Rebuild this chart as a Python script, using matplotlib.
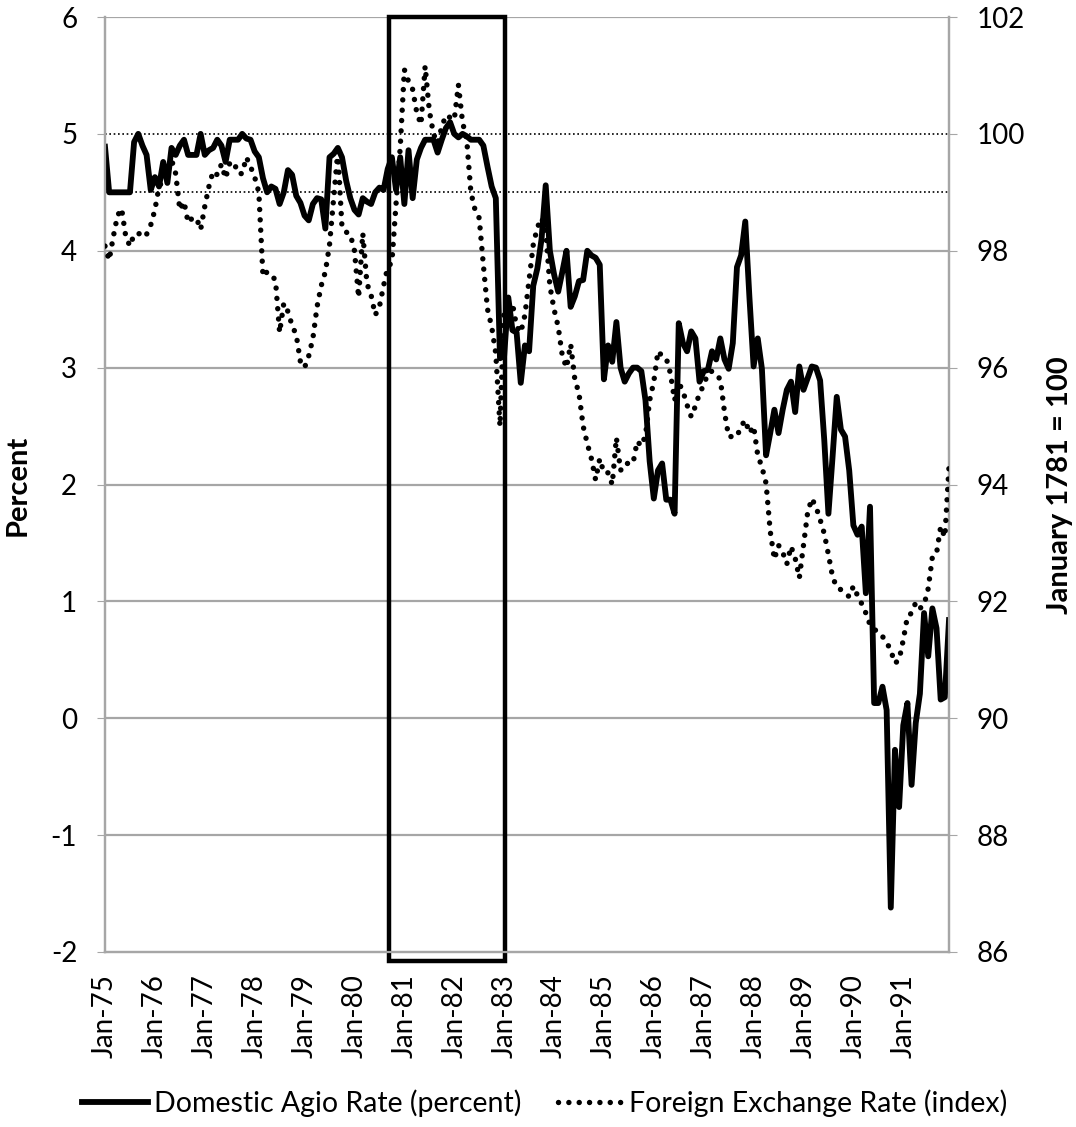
import matplotlib
matplotlib.use("Agg")
import matplotlib.pyplot as plt
from matplotlib.lines import Line2D
from matplotlib.patches import Rectangle
import numpy as np

plt.rcParams['font.family'] = ['Lato', 'DejaVu Sans']

# monthly data, Jan-75 .. Dec-91
agio = (
    [4.89, 4.5, 4.5, 4.5, 4.5, 4.5, 4.5, 4.93, 5.0, 4.9, 4.82, 4.52] +      # 75
    [4.63, 4.55, 4.76, 4.58, 4.88, 4.82, 4.9, 4.95, 4.82, 4.82, 4.82, 5.0] +  # 76
    [4.82, 4.86, 4.88, 4.95, 4.9, 4.76, 4.95, 4.95, 4.95, 5.0, 4.96, 4.95] +  # 77
    [4.85, 4.8, 4.62, 4.5, 4.55, 4.53, 4.4, 4.5, 4.69, 4.65, 4.47, 4.41] +    # 78
    [4.3, 4.26, 4.4, 4.45, 4.44, 4.19, 4.8, 4.83, 4.88, 4.8, 4.6, 4.45] +     # 79
    [4.35, 4.31, 4.45, 4.42, 4.4, 4.5, 4.54, 4.52, 4.7, 4.8, 4.52, 4.8] +     # 80
    [4.4, 4.86, 4.45, 4.78, 4.88, 4.95, 4.95, 4.95, 4.84, 4.95, 5.05, 5.1] +  # 81
    [5.0, 4.97, 5.0, 4.98, 4.95, 4.95, 4.95, 4.9, 4.72, 4.55, 4.45, 3.08] +   # 82
    [3.1, 3.6, 3.32, 3.3, 2.87, 3.19, 3.14, 3.7, 3.85, 4.1, 4.56, 4.0] +      # 83
    [3.8, 3.65, 3.82, 4.0, 3.52, 3.61, 3.74, 3.75, 4.0, 3.96, 3.94, 3.88] +   # 84
    [2.9, 3.19, 3.05, 3.39, 3.0, 2.88, 2.95, 3.0, 3.0, 2.97, 2.72, 2.2] +     # 85
    [1.88, 2.12, 2.18, 1.87, 1.87, 1.75, 3.38, 3.21, 3.14, 3.31, 3.25, 2.88] +  # 86
    [2.97, 2.98, 3.14, 3.07, 3.25, 3.07, 2.99, 3.21, 3.86, 3.96, 4.25, 3.6] +   # 87
    [3.01, 3.25, 2.99, 2.25, 2.44, 2.64, 2.44, 2.64, 2.81, 2.88, 2.62, 3.01] +  # 88
    [2.81, 2.91, 3.01, 3.0, 2.89, 2.38, 1.75, 2.24, 2.75, 2.47, 2.41, 2.12] +   # 89
    [1.65, 1.57, 1.64, 1.07, 1.81, 0.13, 0.13, 0.27, 0.07, -1.62, -0.27, -0.76] +  # 90
    [-0.06, 0.13, -0.57, -0.04, 0.21, 0.9, 0.53, 0.94, 0.77, 0.16, 0.18, 0.84]     # 91
)

fx_index = (
    [98.08, 97.84, 98.24, 98.6, 98.72, 98.24, 98.08, 98.28, 98.28, 98.34, 98.28, 98.44] +
    [98.7, 99.1, 99.2, 99.34, 99.56, 99.32, 98.7, 98.84, 98.48, 98.56, 98.56, 98.36] +
    [98.76, 99.1, 99.36, 99.3, 99.48, 99.24, 99.5, 99.52, 99.32, 99.32, 99.6, 99.44] +
    [99.26, 99.0, 97.56, 97.64, 97.58, 97.5, 96.6, 97.1, 96.96, 96.72, 96.56, 96.1] +
    [96.0, 96.2, 96.5, 97.04, 97.4, 97.64, 98.1, 98.9, 99.7, 98.4, 98.32, 98.28] +
    [98.0, 97.2, 98.3, 97.44, 97.24, 96.9, 97.04, 97.4, 97.72, 97.8, 98.8, 99.76] +
    [101.1, 100.9, 100.76, 100.36, 100.16, 101.16, 100.4, 100.0, 99.84, 100.12, 100.32, 100.28] +
    [100.24, 100.84, 100.2, 99.9, 99.0, 98.7, 98.56, 97.76, 97.0, 96.7, 96.24, 95.0] +
    [97.0, 96.9, 97.1, 96.7, 96.6, 96.9, 97.5, 98.1, 98.4, 98.56, 98.36, 97.4] +
    [97.0, 96.7, 96.2, 96.0, 96.4, 95.8, 95.56, 95.0, 94.7, 94.44, 94.08, 94.44] +
    [94.2, 94.2, 94.0, 94.8, 94.24, 94.36, 94.36, 94.36, 94.74, 94.66, 94.84, 95.44] +
    [95.76, 96.28, 96.2, 96.16, 95.9, 95.44, 95.74, 95.6, 95.36, 95.16, 95.34, 95.56] +
    [95.7, 95.9, 95.94, 95.88, 95.8, 95.24, 94.82, 94.82, 94.82, 95.0, 95.1, 94.88] +
    [95.0, 94.5, 94.3, 94.02, 93.2, 92.72, 92.96, 92.84, 92.64, 92.94, 92.74, 92.4] +
    [92.96, 93.52, 93.76, 93.62, 93.4, 93.16, 92.8, 92.42, 92.24, 92.2, 92.14, 92.08] +
    [92.26, 92.1, 91.96, 91.8, 91.6, 91.52, 91.48, 91.4, 91.3, 91.16, 90.94, 91.0] +
    [91.34, 91.74, 91.8, 91.98, 91.88, 91.94, 92.22, 92.76, 92.82, 93.28, 93.1, 94.3]
)

years = ['75', '76', '77', '78', '79', '80', '81', '82', '83', '84',
         '85', '86', '87', '88', '89', '90', '91']
tick_labels = ['Jan-' + y for y in years]
ref_lines = [5.0, 4.5]          # dotted reference levels (percent)
box_months = (68.3, 96.2)       # highlighted period, Sep-80 .. Jan-83

x = np.arange(len(agio))
dots = (0, (0.01, 1.9))

fig = plt.figure(figsize=(10.76, 11.27), dpi=100)
ax = fig.add_axes([105 / 1076, 1 - 952 / 1127, (949 - 105) / 1076, (952 - 17) / 1127])
ax2 = ax.twinx()

grid_c = '#A6A6A6'
ax.set_ylim(-2, 6)
ax.set_xlim(0, len(agio) - 1)
ax2.set_ylim(86, 102)
for v in [-1, 0, 1, 2, 3, 4, 6]:
    ax.axhline(v, color=grid_c, lw=1.6, zorder=0)
for v in ref_lines:
    ax.axhline(v, color='black', lw=1.2, ls=(0, (1, 1.6)), zorder=1)

ax.plot(x, agio, color='black', lw=4.2, solid_joinstyle='round', zorder=3)
ax2.plot(x, fx_index, color='black', lw=3.9, ls=dots,
         dash_capstyle='round', zorder=3)

ax.add_patch(Rectangle((box_months[0], -2.08), box_months[1] - box_months[0], 8.08,
                       fill=False, ec='black', lw=3.2, clip_on=False, zorder=4))

for a in (ax, ax2):
    a.spines['top'].set_visible(False)
    for s in ('left', 'right', 'bottom'):
        a.spines[s].set_color(grid_c)
        a.spines[s].set_linewidth(1.6)

ax.set_yticks(range(-2, 7))
ax.set_yticklabels([str(v) for v in range(-2, 7)])
ax2.set_yticks(range(86, 103, 2))
ax.tick_params(axis='y', labelsize=20, length=6, color=grid_c, pad=14)
ax2.tick_params(axis='y', labelsize=20, length=6, color=grid_c, pad=14)

ax.set_xticks(np.arange(0, len(agio), 12))
ax.set_xticklabels(tick_labels, rotation=90, fontsize=20)
ax.tick_params(axis='x', length=0, pad=16)

fig.text(18 / 1076, 1 - 485 / 1127, 'Percent', rotation=90, fontsize=21,
         fontweight='bold', ha='center', va='center')
fig.text(1060 / 1076, 1 - 485 / 1127, 'January 1781 = 100', rotation=90, fontsize=21,
         fontweight='bold', ha='center', va='center')

handles = [Line2D([], [], color='black', lw=4.2),
           Line2D([], [], color='black', lw=3.9, ls=dots, dash_capstyle='round')]
fig.legend(handles, ['Domestic Agio Rate (percent)', 'Foreign Exchange Rate (index)'],
           loc='center', bbox_to_anchor=(545 / 1076, 1 - 1103 / 1127), ncol=2, frameon=False,
           fontsize=20.5, handlelength=2.3, handletextpad=0.2, columnspacing=1.3)

fig.savefig('out.png', dpi=100)
